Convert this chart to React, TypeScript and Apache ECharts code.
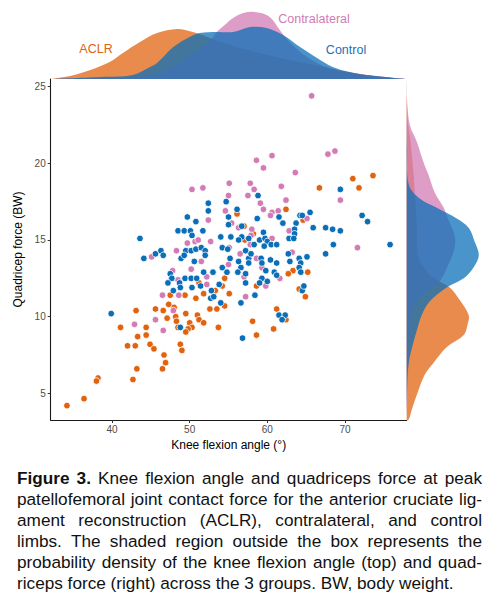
import React, { useEffect, useRef } from "react";
import * as echarts from "echarts";

const GROUPS = ["ACLR", "Contralateral", "Control"];
const COLORS = ["#E1620F", "#D27BB4", "#0A6EB8"];
const FONT = '"Liberation Sans", Arial, Helvetica, sans-serif';

const X_MIN = 32.11;
const X_MAX = 77.94;
const Y_MIN = 3.26;
const Y_MAX = 25.5;
const X_TICKS = [40, 50, 60, 70];
const Y_TICKS = [5, 10, 15, 20, 25];

// ACLR
const aclrAngle = [43.1, 41.1, 44.4, 43.3, 44.4, 42.0, 43.0, 44.9, 43.2, 38.2, 38.0, 42.7, 36.4, 34.2, 56.1, 57.0, 58.2, 57.1, 54.5, 66.7, 71.0, 73.6, 71.8, 62.4, 64.6, 63.3, 65.2, 62.7, 58.6, 51.2, 54.2, 53.3, 55.1, 47.5, 49.4, 50.8, 51.8, 54.5, 64.1, 64.9, 45.6, 46.6, 47.3, 48.0, 49.5, 51.0, 52.6, 53.5, 47.1, 48.2, 48.3, 50.0, 51.2, 51.8, 50.3, 49.8, 48.5, 49.5, 53.7, 48.8, 49.0, 61.2, 62.4, 58.1, 60.8, 58.6, 45.4, 46.7, 46.9, 46.5];
const aclrForce = [10.4, 9.3, 9.3, 8.7, 8.8, 8.1, 8.1, 8.2, 6.6, 6.0, 5.8, 5.9, 4.65, 4.2, 16.7, 15.9, 15.4, 15.0, 12.5, 18.4, 19.0, 19.2, 18.4, 17.0, 16.3, 13.0, 12.9, 12.8, 12.0, 12.2, 12.0, 11.7, 11.5, 11.4, 11.4, 11.2, 11.5, 10.7, 11.8, 11.3, 10.5, 10.4, 10.8, 10.6, 10.2, 10.1, 10.5, 10.5, 9.9, 10.0, 9.7, 9.6, 9.8, 9.6, 9.3, 9.2, 9.3, 9.0, 9.3, 8.2, 7.8, 10.5, 9.8, 9.7, 9.2, 8.8, 7.9, 7.5, 7.0, 6.6];

// Contralateral
const contraAngle = [42.9, 65.7, 67.8, 68.7, 58.6, 60.6, 59.5, 63.6, 50.3, 51.7, 55.1, 57.8, 58.3, 55.0, 57.5, 59.1, 54.6, 59.5, 60.6, 61.4, 60.4, 52.4, 55.4, 56.3, 58.0, 57.9, 60.6, 49.7, 50.7, 51.1, 52.7, 57.8, 55.1, 48.3, 45.1, 56.5, 58.6, 51.5, 55.0, 47.8, 50.2, 59.3, 52.2, 57.0, 61.8, 69.4, 62.4, 65.1, 62.8, 71.6, 63.2, 61.6, 48.5, 59.8, 52.2, 46.5, 48.6, 57.2, 47.9, 45.6, 46.6];
const contraForce = [9.5, 24.4, 20.6, 20.8, 20.2, 20.5, 19.7, 19.4, 18.3, 18.4, 18.7, 18.7, 18.3, 17.9, 17.9, 17.4, 16.9, 17.0, 16.8, 16.9, 16.6, 16.3, 16.1, 15.8, 15.7, 15.3, 15.1, 14.8, 14.9, 15.0, 14.9, 14.7, 14.5, 14.3, 13.9, 14.1, 13.8, 13.6, 13.4, 13.0, 13.1, 13.2, 12.6, 12.6, 18.5, 17.6, 17.6, 16.4, 15.6, 14.5, 14.2, 12.5, 12.4, 12.0, 12.1, 11.4, 11.4, 11.3, 10.4, 9.8, 9.1];

// Control
const controlAngle = [39.9, 43.6, 44.1, 58.8, 54.7, 52.4, 52.4, 56.1, 61.5, 49.7, 50.8, 55.0, 58.7, 55.0, 56.7, 48.5, 49.3, 50.1, 51.7, 50.3,
  59.5, 54.0, 55.3, 56.7, 56.3, 57.6, 58.3, 59.0, 59.7, 60.0, 59.6, 60.5, 61.2, 54.2, 54.9, 49.5, 50.2, 50.8, 51.5, 52.0,
  45.6, 46.3, 46.6, 48.9, 49.3, 52.0, 57.2, 57.6, 57.9, 59.2, 55.2, 50.6, 56.3, 57.6, 59.3, 60.4, 61.2, 54.2, 56.6, 51.8,
  53.0, 47.5, 54.8, 56.2, 57.2, 59.8, 60.9, 47.7, 49.4, 50.2, 50.9, 69.4, 65.5, 64.2, 64.5, 62.0, 63.7, 65.9, 67.5, 68.4,
  69.4, 72.2, 72.9, 63.5, 63.5, 62.8, 63.4, 68.5, 75.8, 62.7, 67.5, 65.1, 62.9, 64.1, 64.3, 64.1, 64.3, 47.2, 48.7, 57.2,
  59.3, 60.0, 59.0, 61.2, 47.9, 51.4, 50.3, 48.8, 52.8, 53.8, 52.7, 53.1, 54.0, 56.6, 58.4, 64.5, 64.7, 48.8, 61.5, 62.3, 61.9, 56.8];
const controlForce = [10.2, 15.1, 13.8, 17.9, 17.5, 17.4, 16.9, 17.0, 16.5, 16.5, 16.2, 16.5, 16.4, 16.0, 15.9, 15.6, 15.6, 15.6, 15.6, 15.3,
  15.5, 15.2, 15.2, 15.2, 15.0, 15.1, 14.7, 15.0, 15.1, 14.9, 14.6, 14.7, 14.7, 14.5, 14.4, 14.3, 14.3, 14.4, 14.5, 14.3,
  14.1, 14.3, 14.0, 13.8, 14.0, 14.0, 14.3, 13.8, 14.1, 13.8, 13.8, 13.6, 13.6, 13.5, 13.5, 13.7, 13.5, 13.2, 13.2, 12.9,
  12.9, 12.8, 12.9, 12.9, 12.8, 13.0, 12.9, 12.5, 12.5, 12.5, 12.5, 18.3, 16.8, 16.6, 16.6, 16.1, 16.1, 15.8, 15.8, 15.7,
  15.6, 16.6, 16.2, 15.7, 15.4, 15.1, 15.1, 14.7, 14.7, 14.1, 14.1, 13.9, 13.6, 13.8, 13.5, 13.2, 12.9, 12.2, 12.2, 12.2,
  12.5, 12.3, 12.2, 12.7, 11.7, 12.0, 11.9, 11.9, 11.7, 12.1, 11.2, 11.3, 10.9, 10.9, 11.4, 11.7, 12.0, 9.3, 10.1, 10.1, 9.8, 8.6];

// Marginal density of knee flexion angle (top): [angle, density]
const angleDensityACLR = [[32.1, 0], [34.6, 0.003], [37.2, 0.009], [39.7, 0.017], [41.4, 0.026], [43.6, 0.037], [45.8, 0.046], [48.4, 0.05], [50.4, 0.047], [51.3, 0.045], [53.3, 0.039], [55.6, 0.033], [59.0, 0.026], [61.6, 0.021], [64.2, 0.017], [68.4, 0.01], [72.8, 0.004], [77.9, 0]];
const angleDensityContra = [[32.1, 0], [38.5, 0.001], [42.3, 0.002], [44.9, 0.004], [47.5, 0.01], [50.0, 0.024], [52.6, 0.038], [53.5, 0.047], [54.5, 0.054], [55.6, 0.061], [56.9, 0.066], [58.4, 0.067], [59.9, 0.064], [60.7, 0.059], [61.6, 0.049], [62.3, 0.042], [63.5, 0.032], [65.5, 0.02], [68.0, 0.011], [71.9, 0.005], [77.9, 0]];
const angleDensityControl = [[32.1, 0], [38.5, 0.002], [42.7, 0.004], [44.9, 0.012], [45.8, 0.016], [47.9, 0.032], [50.0, 0.042], [51.3, 0.046], [53.5, 0.047], [55.6, 0.047], [57.8, 0.052], [59.9, 0.051], [62.0, 0.044], [64.2, 0.032], [66.4, 0.021], [68.4, 0.012], [70.6, 0.007], [72.8, 0.004], [77.9, 0]];

// Marginal density of quadriceps force (right): [force, density]
const forceDensityACLR = [[25.5, 0], [22.8, 0.003], [21.4, 0.011], [19.2, 0.02], [18.1, 0.023], [17.0, 0.026], [16.0, 0.029], [14.7, 0.029], [13.8, 0.034], [13.2, 0.049], [12.7, 0.066], [12.3, 0.094], [11.9, 0.123], [11.1, 0.151], [10.1, 0.177], [9.5, 0.174], [8.8, 0.163], [8.0, 0.114], [7.0, 0.077], [6.2, 0.051], [4.9, 0.029], [3.9, 0.014], [3.3, 0.006], [3.26, 0]];
const forceDensityContra = [[25.5, 0], [24.1, 0.001], [22.5, 0.009], [21.4, 0.029], [20.2, 0.046], [19.2, 0.063], [18.1, 0.08], [17.1, 0.106], [16.6, 0.114], [15.3, 0.137], [14.5, 0.137], [13.6, 0.123], [12.3, 0.094], [11.7, 0.06], [11.0, 0.03], [10.4, 0.012], [9.5, 0.007], [7.8, 0.005], [5.9, 0.003], [3.26, 0]];
const forceDensityControl = [[25.5, 0], [20.9, 0.001], [18.6, 0.006], [17.7, 0.037], [17.1, 0.086], [16.4, 0.143], [15.8, 0.177], [14.9, 0.194], [14.0, 0.206], [13.2, 0.191], [12.5, 0.163], [11.9, 0.114], [11.0, 0.066], [10.1, 0.043], [9.1, 0.029], [8.4, 0.02], [7.0, 0.006], [5.2, 0.001], [3.26, 0]];

const CAPTION_LINES = [
  "patellofemoral joint contact force for the anterior cruciate lig-",
  "ament reconstruction (ACLR), contralateral, and control",
  "limbs. The shaded region outside the box represents the",
  "probability density of the knee flexion angle (top) and quad-",
  "riceps force (right) across the 3 groups. BW, body weight.",
];

const scatterSets = [
  [aclrAngle, aclrForce],
  [contraAngle, contraForce],
  [controlAngle, controlForce],
];
const angleDensities = [angleDensityACLR, angleDensityContra, angleDensityControl];
const forceDensities = [forceDensityACLR, forceDensityContra, forceDensityControl];

function densitySeries(curve: number[][], color: string, idx: number, horizontal: boolean) {
  return {
    type: "custom",
    name: GROUPS[idx] + (horizontal ? " force density" : " angle density"),
    xAxisIndex: horizontal ? 2 : 1,
    yAxisIndex: horizontal ? 2 : 1,
    clip: true,
    silent: true,
    z: 1 + idx,
    data: [[0, 0]],
    renderItem: (_p: any, api: any) => {
      const pts = curve.map(([v, d]) => (horizontal ? api.coord([d, v]) : api.coord([v, d])));
      return {
        type: "polyline",
        shape: { points: pts, smooth: 0.35 },
        style: { fill: color, stroke: null, opacity: 0.74 },
      };
    },
  };
}

export default function App() {
  const ref = useRef<HTMLDivElement>(null);
  useEffect(() => {
    document.body.style.margin = "0";
    const chart = echarts.init(ref.current!, null, { renderer: "svg" });
    const axisText = { color: "#4D4D4D", fontSize: 10, fontFamily: FONT };
    const option: any = {
      animation: false,
      textStyle: { fontFamily: FONT },
      grid: [
        { left: 50.7, top: 79, width: 356, height: 341 },
        { left: 50.7, top: 9, width: 356, height: 70 },
        { left: 406.7, top: 79, width: 77, height: 341 },
      ],
      xAxis: [
        {
          gridIndex: 0, type: "value", min: X_MIN, max: X_MAX,
          name: "Knee flexion angle (°)", nameLocation: "middle", nameGap: 16,
          nameTextStyle: { color: "#000", fontSize: 12, fontFamily: FONT },
          axisLine: { show: true, lineStyle: { color: "#1a1a1a", width: 1.1 } },
          axisTick: { show: true, length: 3, customValues: X_TICKS, lineStyle: { color: "#333" } },
          axisLabel: { ...axisText, margin: 4.5, customValues: X_TICKS },
          splitLine: { show: false },
        },
        { gridIndex: 1, type: "value", min: X_MIN, max: X_MAX, show: false },
        { gridIndex: 2, type: "value", min: 0, max: 0.22, show: false },
      ],
      yAxis: [
        {
          gridIndex: 0, type: "value", min: Y_MIN, max: Y_MAX,
          name: "Quadricep force (BW)", nameLocation: "middle", nameGap: 15,
          nameTextStyle: { color: "#000", fontSize: 12, fontFamily: FONT },
          axisLine: { show: true, lineStyle: { color: "#1a1a1a", width: 1.1 } },
          axisTick: { show: true, length: 3, customValues: Y_TICKS, lineStyle: { color: "#333" } },
          axisLabel: { ...axisText, margin: 5, customValues: Y_TICKS },
          splitLine: { show: false },
        },
        { gridIndex: 1, type: "value", min: 0, max: 0.07, show: false },
        { gridIndex: 2, type: "value", min: Y_MIN, max: Y_MAX, show: false },
      ],
      graphic: [
        { type: "text", x: 96, y: 49, style: { text: "ACLR", fill: COLORS[0], fontSize: 12.5, fontFamily: FONT, align: "center", verticalAlign: "middle" } },
        { type: "text", x: 314, y: 19, style: { text: "Contralateral", fill: COLORS[1], fontSize: 12.5, fontFamily: FONT, align: "center", verticalAlign: "middle" } },
        { type: "text", x: 346, y: 50, style: { text: "Control", fill: "#1F6FB5", fontSize: 12.5, fontFamily: FONT, align: "center", verticalAlign: "middle" } },
      ],
      series: [
        ...angleDensities.map((c, i) => densitySeries(c, COLORS[i], i, false)),
        ...forceDensities.map((c, i) => densitySeries(c, COLORS[i], i, true)),
        ...scatterSets.map(([ang, frc], i) => ({
          type: "scatter",
          name: GROUPS[i],
          xAxisIndex: 0,
          yAxisIndex: 0,
          z: 5 + i,
          symbolSize: 6.6,
          data: ang.map((a, k) => [a, frc[k]]),
          itemStyle: { color: COLORS[i], borderColor: "#ffffff", borderWidth: 0.8, opacity: 1 },
        })),
      ],
    };
    chart.setOption(option);
    return () => chart.dispose();
  }, []);

  const lineStyle: React.CSSProperties = {
    textAlign: "justify",
    textAlignLast: "justify" as any,
    whiteSpace: "normal",
    height: 21,
  };

  return (
    <div style={{ position: "relative", width: 498, height: 599, background: "#fff", overflow: "hidden" }}>
      <div ref={ref} style={{ position: "absolute", left: 0, top: 0, width: 498, height: 460 }} />
      <div
        style={{
          position: "absolute", left: 17, top: 468, width: 465,
          fontFamily: FONT, fontSize: 17.2, lineHeight: "21px", color: "#111",
        }}
      >
        <div style={lineStyle}>
          <b>Figure 3.</b> Knee flexion angle and quadriceps force at peak
        </div>
        {CAPTION_LINES.map((t, i) => (
          <div key={i} style={i === CAPTION_LINES.length - 1 ? { ...lineStyle, textAlignLast: "left" as any } : lineStyle}>
            {t}
          </div>
        ))}
      </div>
    </div>
  );
}
